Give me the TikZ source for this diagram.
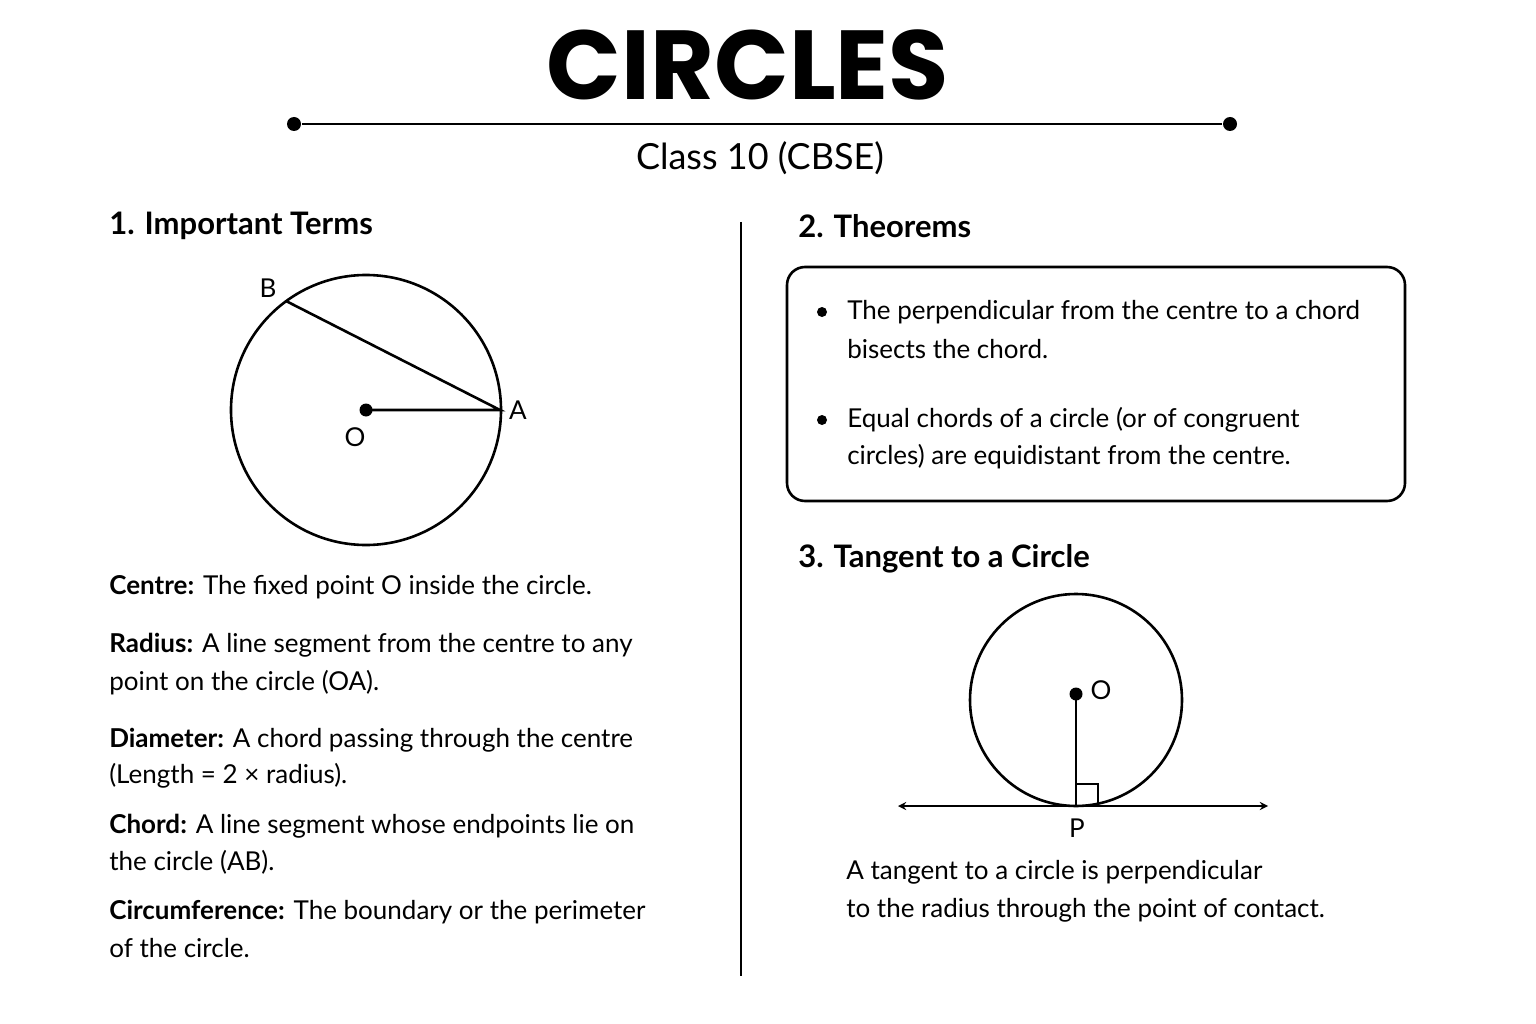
\documentclass[tikz,border=0pt]{standalone}
\usepackage{fontspec}
\setmainfont{Lato}
\newfontfamily\titlefont{Poppins}
\begin{document}
\begin{tikzpicture}[x=1pt,y=-1pt,line width=2.6pt,
  body/.style={anchor=west,inner sep=0pt,font=\fontsize{26}{30}\selectfont},
  head/.style={anchor=west,inner sep=0pt,font=\fontsize{31}{36}\selectfont\bfseries},
  lbl/.style={inner sep=0pt,font=\fontsize{26}{30}\selectfont},
  dot/.style={circle,fill=black,inner sep=0pt,minimum size=14pt}]
\useasboundingbox[fill=white] (0,0) rectangle (1536,1024);
\node[inner sep=0pt,font=\titlefont\fontsize{98}{110}\selectfont\bfseries] (title) at (748,65) {CIRCLES};
\node[dot] (l1) at (294,124) {}; \node[dot] (l2) at (1230,124) {};
\draw (l1) -- (l2);
\node[lbl,font=\fontsize{36}{40}\selectfont] (sub) at (760,158) {Class 10 (CBSE)};
\coordinate (d1) at (741,222); \coordinate (d2) at (741,976);
\draw (d1) -- (d2);
% left
\node[head] (h1) at (108,226) {1. Important Terms};
\coordinate (c1) at (366,410);
\draw (c1) circle[radius=135];
\node[dot,minimum size=13pt] (O1) at (c1) {};
\coordinate (A) at (500,410); \coordinate (B) at (286,301);
\draw (O1.center) -- (A) -- (B);
\node[lbl] (lB) at (268,288) {B};
\node[lbl] (lA) at (518,410) {A};
\node[lbl] (lO) at (355,437) {O};
\node[body] (t1) at (108,587) {\textbf{Centre:} The fixed point O inside the circle.};
\node[body] (t2) at (108,645) {\textbf{Radius:} A line segment from the centre to any};
\node[body] (t2b) at (108,683) {point on the circle (OA).};
\node[body] (t3) at (108,740) {\textbf{Diameter:} A chord passing through the centre};
\node[body] (t3b) at (108,776) {(Length = 2 × radius).};
\node[body] (t4) at (108,826) {\textbf{Chord:} A line segment whose endpoints lie on};
\node[body] (t4b) at (108,862) {the circle (AB).};
\node[body] (t5) at (108,912) {\textbf{Circumference:} The boundary or the perimeter};
\node[body] (t5b) at (108,948) {of the circle.};
% right
\node[head] (h2) at (797,226) {2. Theorems};
\draw[rounded corners=18pt] (787,267) rectangle (1405,501);
\node[dot,minimum size=10pt] (b1) at (822,312) {};
\node[dot,minimum size=10pt] (b2) at (822,420) {};
\node[body] (th1) at (846,312) {The perpendicular from the centre to a chord};
\node[body] (th1b) at (846,349) {bisects the chord.};
\node[body] (th2) at (846,420) {Equal chords of a circle (or of congruent};
\node[body] (th2b) at (846,457) {circles) are equidistant from the centre.};
\node[head] (h3) at (797,559) {3. Tangent to a Circle};
\draw (1076,700) circle[radius=106];
\node[dot,minimum size=13pt] (O2) at (1076,694) {};
\coordinate (P) at (1076,806);
\draw (O2.center) -- (P);
\draw[line width=2pt] (1076,784) -- (1098,784) -- (1098,806);
\coordinate (tl) at (898,806); \coordinate (tr) at (1268,806);
\draw[<->,>=stealth] (tl) -- (tr);
\node[lbl] (lO2) at (1101,690) {O};
\node[lbl] (lP) at (1077,828) {P};
\node[body] (tt1) at (845,872) {A tangent to a circle is perpendicular};
\node[body] (tt2) at (845,910) {to the radius through the point of contact.};
\end{tikzpicture}
\end{document}
